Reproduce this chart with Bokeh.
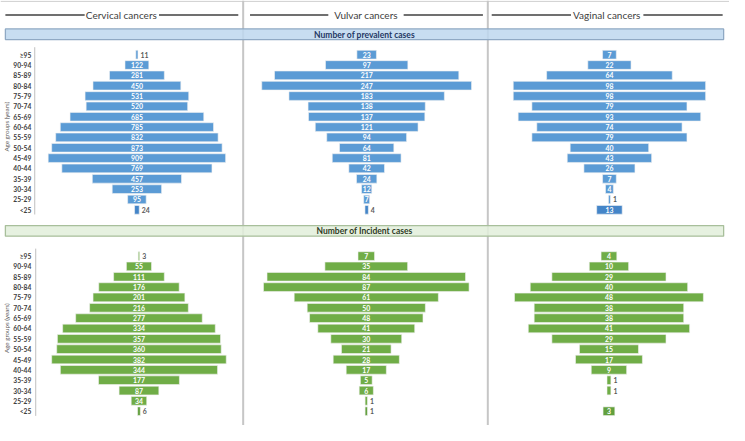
import math
from bokeh.plotting import figure
from bokeh.models import Range1d, ColumnDataSource
from bokeh.core.properties import value
from bokeh.embed import file_html
from bokeh.resources import INLINE

# ---------------- data ----------------
age_groups = ["≥95", "90-94", "85-89", "80-84", "75-79", "70-74", "65-69", "60-64",
              "55-59", "50-54", "45-49", "40-44", "35-39", "30-34", "25-29", "<25"]
cervical_prevalent = [11, 122, 281, 450, 531, 520, 685, 785, 832, 873, 909, 769, 457, 253, 95, 24]
vulvar_prevalent = [23, 97, 217, 247, 183, 138, 137, 121, 94, 64, 81, 42, 24, 12, 7, 4]
vaginal_prevalent = [7, 22, 64, 98, 98, 79, 93, 74, 79, 40, 43, 26, 7, 4, 1, 13]
cervical_incident = [3, 55, 111, 176, 201, 216, 277, 334, 357, 360, 382, 344, 177, 87, 34, 6]
vulvar_incident = [7, 35, 84, 87, 61, 50, 48, 41, 30, 21, 28, 17, 5, 6, 1, 1]
vaginal_incident = [4, 10, 29, 40, 48, 38, 38, 41, 29, 15, 17, 9, 1, 1, 0, 3]
column_titles = ["Cervical cancers", "Vulvar cancers", "Vaginal cancers"]
section_titles = ["Number of prevalent cases", "Number of Incident cases"]
axis_title = "Age groups (years)"

# ---------------- layout / style ----------------
REF_W, REF_H = 745, 441
FONT = value("Lato")
BLUE = "#5B9BD5"
GREEN = "#70AD47"
DY = 10.733          # row pitch (layout px)
BAR_H = 0.84         # bar thickness in rows
rows = list(range(len(age_groups)))

p = figure(width=729, height=425, x_range=Range1d(0, REF_W), y_range=Range1d(REF_H, 0),
           output_backend="svg", toolbar_location=None, min_border=0,
           x_axis_location=None, y_axis_location=None, background_fill_color="white",
           border_fill_color="white")
p.outline_line_color = None
p.xgrid.visible = False
p.ygrid.visible = False

# outer top border + column dividers
p.segment(x0=[0], y0=[1], x1=[REF_W], y1=[1], line_color="#d4d4d4", line_width=1.2)
p.segment(x0=[248, 498], y0=[0, 0], x1=[248, 498], y1=[REF_H, REF_H],
          line_color="#c6c6c6", line_width=2)

# column titles with side rules
title_x = [123.5, 373.5, 619.5]
rule_segs = [(5, 86), (162, 243), (255, 335), (412, 493), (502, 583), (657, 738)]
p.segment(x0=[a for a, b in rule_segs], y0=[15] * 6, x1=[b for a, b in rule_segs], y1=[15] * 6,
          line_color="#404040", line_width=1.4)
p.text(x=title_x, y=[15.5] * 3, text=column_titles, text_align="center", text_baseline="middle",
       text_font=FONT, text_font_size="10px", text_color="#404040")

sections = [
    # key, banner top, banner bottom, fill, edge, text color, first-row y, axis x, axis title y, series
    ("prev", 29.5, 40.5, "#BDD7EE", "#8FA9C4", "#1F3864", 56.2, 35.0, 131,
     [cervical_prevalent, vulvar_prevalent, vaginal_prevalent], BLUE, "#4485C8"),
    ("inc", 233.5, 244.5, "#E2EFDA", "#A8BF9B", "#2F3B25", 265.2, 36.0, 340,
     [cervical_incident, vulvar_incident, vaginal_incident], GREEN, "#62A03D"),
]
scales = {
    "prev": [(139.4, 0.1995), (374.2, 0.868), (622.3, 2.006)],
    "inc": [(141.5, 0.467), (373.8, 2.415), (621.8, 4.022)],
}

for si, (key, bt, bb, fill, edge, tcol, y0, ax_x, ax_title_y, series, color, dark) in enumerate(sections):
    # banner
    p.quad(left=[5], right=[739], top=[bt], bottom=[bb], fill_color=fill, fill_alpha=0.85,
           line_color=edge, line_width=1.3)
    p.text(x=[372], y=[(bt + bb) / 2 + 0.3], text=[section_titles[si]], text_align="center",
           text_baseline="middle", text_font=FONT, text_font_size="8.5px",
           text_font_style="bold", text_color=tcol)

    yr = key
    p.extra_y_ranges[yr] = Range1d(start=(REF_H - y0) / DY, end=(0 - y0) / DY)

    # category axis for the cervical panel
    p.segment(x0=[ax_x], y0=[-0.72], x1=[ax_x], y1=[15.45], line_color="#bfbfbf", line_width=1,
              y_range_name=yr)
    p.text(x=[31.5] * len(rows), y=rows, text=age_groups, text_align="right", text_baseline="middle",
           text_font=FONT, text_font_size="6.7px", text_font_style="bold", text_color="#404040",
           y_range_name=yr)
    p.text(x=[6.5], y=[ax_title_y], text=[axis_title], angle=math.pi / 2, text_align="center",
           text_baseline="middle", text_font=FONT, text_font_size="6.2px", text_color="#595959")

    for ci, vals in enumerate(series):
        cx, k = scales[key][ci]
        xr = f"{key}_{ci}"
        p.extra_x_ranges[xr] = Range1d(start=(0 - cx) / k, end=(REF_W - cx) / k)
        ys = [r for r, v in zip(rows, vals) if v > 0]
        vs = [v for v in vals if v > 0]
        colors = [dark if age_groups[r] == "<25" else color for r in ys]
        src = ColumnDataSource(dict(y=ys, left=[-v / 2 for v in vs], right=[v / 2 for v in vs],
                                    color=colors, label=[str(v) for v in vs]))
        p.hbar(y="y", left="left", right="right", height=BAR_H, fill_color="color",
               line_color="#f2f2f2", line_width=0.6, source=src,
               x_range_name=xr, y_range_name=yr)
        inside = [i for i, v in enumerate(vs) if v * k >= 5.5]
        outside = [i for i, v in enumerate(vs) if v * k < 5.5]
        p.text(x=[0] * len(inside), y=[ys[i] for i in inside], text=[str(vs[i]) for i in inside],
               text_align="center", text_baseline="middle", text_font=FONT,
               text_font_size="6.9px", text_font_style="bold", text_color="white",
               x_range_name=xr, y_range_name=yr)
        p.text(x=[vs[i] / 2 for i in outside], y=[ys[i] for i in outside],
               text=[str(vs[i]) for i in outside], x_offset=2.5,
               text_align="left", text_baseline="middle", text_font=FONT,
               text_font_size="6.9px", text_font_style="bold", text_color="#595959",
               x_range_name=xr, y_range_name=yr)

open("out.html", "w").write(file_html(p, INLINE))
